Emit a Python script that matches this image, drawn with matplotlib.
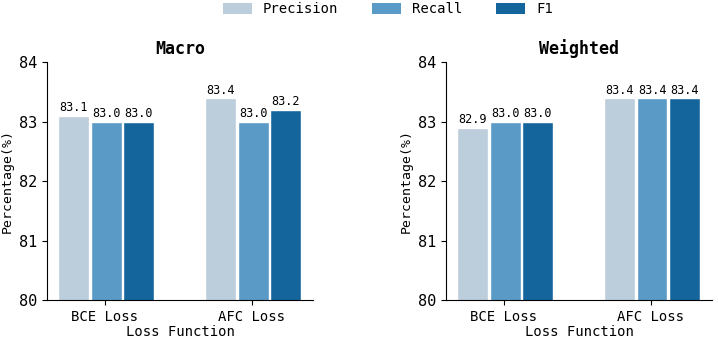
import numpy as np
import matplotlib
matplotlib.use("Agg")
import matplotlib.pyplot as plt
from matplotlib.patches import Patch

plt.rcParams['font.family'] = ['DejaVu Sans Mono', 'DejaVu Sans']

losses = ["BCE Loss", "AFC Loss"]
metrics = ["Precision", "Recall", "F1"]
macro = {"Precision": [83.1, 83.4], "Recall": [83.0, 83.0], "F1": [83.0, 83.2]}
weighted = {"Precision": [82.9, 83.4], "Recall": [83.0, 83.4], "F1": [83.0, 83.4]}
colors = ["#BCCDDC", "#5A9AC7", "#14659C"]

fig, axes = plt.subplots(1, 2, figsize=(7.18, 3.41), dpi=100)
fig.subplots_adjust(left=0.066, right=0.992, bottom=0.12, top=0.818, wspace=0.5)

x = np.arange(len(losses))
w = 0.22
for ax, data, title in zip(axes, [macro, weighted], ["Macro", "Weighted"]):
    for i, m in enumerate(metrics):
        bars = ax.bar(x + (i - 1) * w + 0.01, data[m], 0.21, color=colors[i],
                      edgecolor="white", linewidth=1.0)
        for b, v in zip(bars, data[m]):
            ax.text(b.get_x() + b.get_width() / 2, v + 0.02, f"{v:.1f}",
                    ha="center", va="bottom", fontsize=8.5)
    ax.set_ylim(80, 84)
    ax.set_xlim(-0.39, 1.42)
    ax.set_yticks([80, 81, 82, 83, 84])
    ax.set_xticks(x)
    ax.set_xticklabels(losses, fontsize=10)
    ax.tick_params(axis="y", labelsize=11)
    ax.set_xlabel("Loss Function", fontsize=10, labelpad=1)
    ax.set_ylabel("Percentage(%)", fontsize=9.5)
    ax.set_title(title, fontsize=12, fontweight="bold", pad=6)
    ax.spines["top"].set_visible(False)
    ax.spines["right"].set_visible(False)

handles = [Patch(facecolor=c, label=m) for c, m in zip(colors, metrics)]
fig.legend(handles=handles, loc="upper center", ncol=3, frameon=False,
           bbox_to_anchor=(0.54, 1.03), fontsize=10, handlelength=2.1,
           handleheight=0.75, columnspacing=2.4)

fig.savefig("out.png", dpi=100)
